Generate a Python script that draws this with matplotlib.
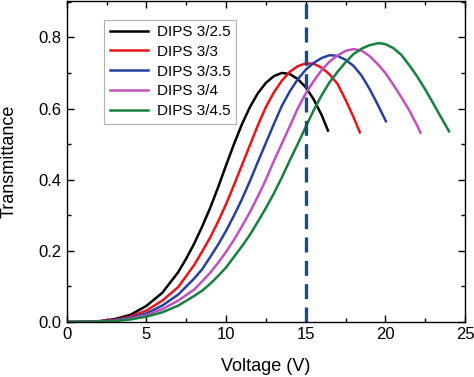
import matplotlib
matplotlib.use("Agg")
import matplotlib.pyplot as plt
from matplotlib.ticker import MultipleLocator

plt.rcParams['font.family'] = ['Liberation Sans', 'DejaVu Sans']

# Voltage (V) / transmittance
v_25 = [0, 1, 2, 3, 4, 5, 6, 7, 7.5, 8, 8.5, 9, 9.5, 10, 10.5, 11, 11.5, 12, 12.5, 13,
        13.5, 14, 14.5, 15, 15.5, 16, 16.4]
t_25 = [0, 0.0005, 0.002, 0.008, 0.02, 0.045, 0.082, 0.14, 0.178, 0.22, 0.268, 0.32,
        0.378, 0.44, 0.50, 0.556, 0.604, 0.643, 0.672, 0.691, 0.70, 0.697, 0.683, 0.66,
        0.626, 0.582, 0.538]

v_30 = [0, 1, 2, 3, 4, 5, 6, 7, 8, 8.5, 9, 9.5, 10, 10.5, 11, 11.5, 12, 12.5, 13, 13.5,
        14, 14.5, 15, 15.5, 16, 16.5, 17, 17.5, 18, 18.4]
t_30 = [0, 0.0004, 0.0017, 0.006, 0.015, 0.032, 0.06, 0.098, 0.16, 0.198, 0.237, 0.282,
        0.331, 0.385, 0.441, 0.497, 0.553, 0.604, 0.645, 0.678, 0.703, 0.719, 0.727,
        0.726, 0.715, 0.696, 0.669, 0.625, 0.576, 0.533]

v_35 = [0, 1, 2, 3, 4, 5, 6, 7, 8, 8.5, 9, 9.5, 10, 10.5, 11, 11.5, 12, 12.5, 13, 13.5,
        14, 14.5, 15, 15.5, 16, 16.5, 17, 17.5, 18, 18.5, 19, 19.5, 20.04]
t_35 = [0, 0.0003, 0.0015, 0.0045, 0.012, 0.024, 0.046, 0.077, 0.122, 0.148, 0.182,
        0.217, 0.256, 0.299, 0.345, 0.396, 0.45, 0.503, 0.556, 0.607, 0.648, 0.682,
        0.709, 0.728, 0.742, 0.75, 0.748, 0.737, 0.72, 0.693, 0.656, 0.613, 0.564]

v_40 = [0, 1, 2, 3, 4, 5, 6, 7, 8, 8.5, 9, 9.5, 10, 10.5, 11, 11.5, 12, 12.5, 13, 13.5,
        14, 14.5, 15, 15.5, 16, 16.5, 17, 17.5, 18, 18.5, 19, 19.5, 20, 20.5, 21, 21.5,
        22, 22.2]
t_40 = [0, 0.0003, 0.001, 0.003, 0.009, 0.019, 0.036, 0.06, 0.091, 0.114, 0.138, 0.166,
        0.197, 0.231, 0.269, 0.309, 0.353, 0.40, 0.452, 0.501, 0.55, 0.60, 0.642, 0.677,
        0.708, 0.732, 0.749, 0.762, 0.767, 0.763, 0.748, 0.726, 0.70, 0.667, 0.632,
        0.595, 0.552, 0.532]

v_45 = [0, 1, 2, 3, 4, 5, 6, 7, 8, 8.5, 9, 9.5, 10, 10.5, 11, 11.5, 12, 12.5, 13, 13.5,
        14, 14.5, 15, 15.5, 16, 16.5, 17, 17.5, 18, 18.5, 19, 19.6, 20, 20.5, 21, 21.5,
        22, 22.5, 23, 23.5, 24]
t_45 = [0, 0.0002, 0.001, 0.0025, 0.007, 0.015, 0.027, 0.046, 0.073, 0.088, 0.107, 0.129,
        0.153, 0.183, 0.213, 0.245, 0.282, 0.32, 0.361, 0.406, 0.454, 0.50, 0.548, 0.595,
        0.637, 0.674, 0.703, 0.73, 0.753, 0.768, 0.778, 0.784, 0.781, 0.77, 0.751, 0.722,
        0.69, 0.654, 0.615, 0.575, 0.536]

labels = ["DIPS 3/2.5", "DIPS 3/3", "DIPS 3/3.5", "DIPS 3/4", "DIPS 3/4.5"]
colors = ["#000000", "#e8151b", "#2a40a0", "#c151c0", "#17803f"]
v_line = 15

fig = plt.figure(figsize=(4.74, 3.77), dpi=100)
ax = fig.add_axes([0.1407, 0.146, 0.8403, 0.852])

series = [(v_25, t_25), (v_30, t_30), (v_35, t_35), (v_40, t_40), (v_45, t_45)]
for (v, t), lab, c in zip(series, labels, colors):
    ax.plot(v, t, color=c, lw=1.8, label=lab, solid_joinstyle="round")

ax.axvline(v_line, color="#1d4a85", lw=2.4, dashes=(4.5, 2.5))

ax.set_xlim(0, 25)
ax.set_ylim(0, 0.903)
ax.xaxis.set_major_locator(MultipleLocator(5))
ax.xaxis.set_minor_locator(MultipleLocator(2.5))
ax.yaxis.set_major_locator(MultipleLocator(0.2))
ax.yaxis.set_minor_locator(MultipleLocator(0.1))
ax.set_yticks([0, 0.2, 0.4, 0.6, 0.8])
ax.tick_params(which="both", direction="in", top=True, right=True, labelsize=12, width=1)
ax.tick_params(which="major", length=5)
ax.tick_params(which="minor", length=3)
for s in ax.spines.values():
    s.set_linewidth(1)

ax.set_xlabel("Voltage (V)", fontsize=13, labelpad=12)
ax.set_ylabel("Transmittance", fontsize=13, labelpad=15)

leg = ax.legend(loc="upper left", bbox_to_anchor=(0.075, 0.965), fontsize=11,
                handlelength=2.5, handletextpad=0.6, labelspacing=0.38,
                borderpad=0.35, fancybox=False, framealpha=1)
leg.get_frame().set_edgecolor("#b0b0b0")
leg.get_frame().set_linewidth(0.8)

fig.savefig("out.png", dpi=100)
